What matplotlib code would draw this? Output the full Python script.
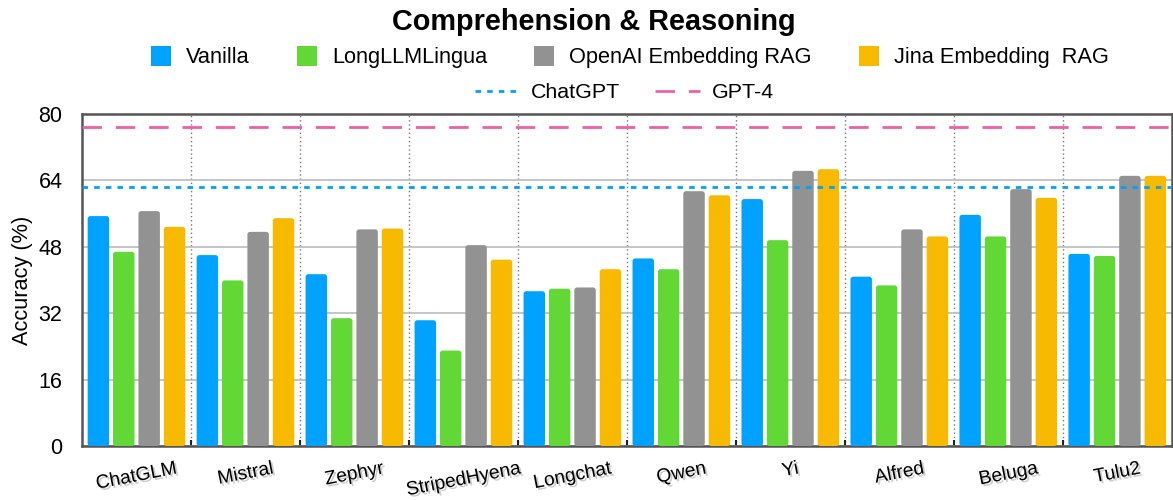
import numpy as np
import matplotlib
matplotlib.use("Agg")
import matplotlib.pyplot as plt
from matplotlib.patches import FancyBboxPatch, Patch
from matplotlib.lines import Line2D
import matplotlib.patheffects as pe

plt.rcParams["font.family"] = ["Liberation Sans", "DejaVu Sans"]

# dados
models = ["ChatGLM", "Mistral", "Zephyr", "StripedHyena", "Longchat",
          "Qwen", "Yi", "Alfred", "Beluga", "Tulu2"]
vanilla = [55.4, 46.0, 41.4, 30.3, 37.3, 45.2, 59.5, 40.8, 55.7, 46.3]
longllmlingua = [46.8, 39.9, 30.8, 23.0, 37.9, 42.6, 49.6, 38.7, 50.5, 45.8]
openai_rag = [56.6, 51.6, 52.2, 48.4, 38.2, 61.4, 66.3, 52.2, 61.9, 65.1]
jina_rag = [52.8, 54.9, 52.4, 44.9, 42.6, 60.4, 66.7, 50.5, 59.8, 65.1]
chatgpt_ref = 62.5
gpt4_ref = 76.9

series = [("Vanilla", vanilla, "#00A2FF"),
          ("LongLLMLingua", longllmlingua, "#61D836"),
          ("OpenAI Embedding RAG", openai_rag, "#929292"),
          ("Jina Embedding  RAG", jina_rag, "#F8BA00")]

fig = plt.figure(figsize=(11.73, 5), dpi=100)
ax = fig.add_axes([0.0699, 0.108, 0.929, 0.664])

x = np.arange(len(models))
pitch = 0.233
width = 0.197
ax.set_xlim(-0.5, len(models) - 0.5)
ax.set_ylim(0, 80)

# aspecto para cantos arredondados
aspect = (80 / 332) / (10 / 1090)
for i, (name, vals, col) in enumerate(series):
    bars = ax.bar(x + (i - 1.5) * pitch, vals, width, color=col, zorder=3)
    for r in bars:
        r.set_visible(False)
        p = FancyBboxPatch((r.get_x(), 0), r.get_width(), r.get_height(),
                           boxstyle="round,pad=0,rounding_size=0.025",
                           mutation_aspect=aspect, facecolor=col,
                           edgecolor="none", zorder=3)
        ax.add_patch(p)

ax.axhline(chatgpt_ref, color="#00A2FF", lw=2, ls=(0, (2, 2.2)), zorder=4)
ax.axhline(gpt4_ref, color="#EF5FA7", lw=2, ls=(0, (7, 5)), zorder=4)

ax.set_yticks([0, 16, 32, 48, 64, 80])
ax.tick_params(axis="y", length=0, labelsize=15.5, pad=14)
ax.yaxis.grid(True, color="#BBBBBB", lw=1.2, zorder=0)

# separadores dos grupos
bounds = np.arange(len(models) + 1) - 0.5
ax.set_xticks(bounds[1:-1])
ax.set_xticklabels([])
ax.tick_params(axis="x", length=4, width=1.5, color="#222222", direction="in")
for b in bounds[1:-1]:
    ax.axvline(b, color="#777777", lw=1, ls=(0, (1, 2)), zorder=1)

for xi, m in zip(x, models):
    ax.text(xi, -3.5, m, rotation=11, ha="center", va="top", fontsize=13.8,
            path_effects=[pe.withSimplePatchShadow(offset=(1.5, -1.5),
                                                   shadow_rgbFace="#999999",
                                                   alpha=0.5)])

for s in ax.spines.values():
    s.set_color("#555555")
    s.set_linewidth(1.8)

ax.set_ylabel("Accuracy (%)", fontsize=15.7, labelpad=4)

fig.text(0.506, 0.957, "Comprehension & Reasoning", ha="center", va="center",
         fontsize=20.8, fontweight="bold")

h1 = [Patch(facecolor=c, label=n) for n, _, c in series]
fig.legend(handles=h1, loc="center", bbox_to_anchor=(0.537, 0.886),
           ncol=4, frameon=False, fontsize=15.7, handlelength=0.92,
           handleheight=1.05, columnspacing=2.15, handletextpad=0.7)
h2 = [Line2D([], [], color="#00A2FF", lw=2, ls=(0, (2, 2.2)), label="ChatGPT"),
      Line2D([], [], color="#EF5FA7", lw=2, ls=(0, (7, 5)), label="GPT-4")]
fig.legend(handles=h2, loc="center", bbox_to_anchor=(0.532, 0.814), ncol=2,
           frameon=False, fontsize=15.4, handlelength=2.1, columnspacing=1.6,
           handletextpad=0.55)

fig.savefig("out.png", dpi=100)
